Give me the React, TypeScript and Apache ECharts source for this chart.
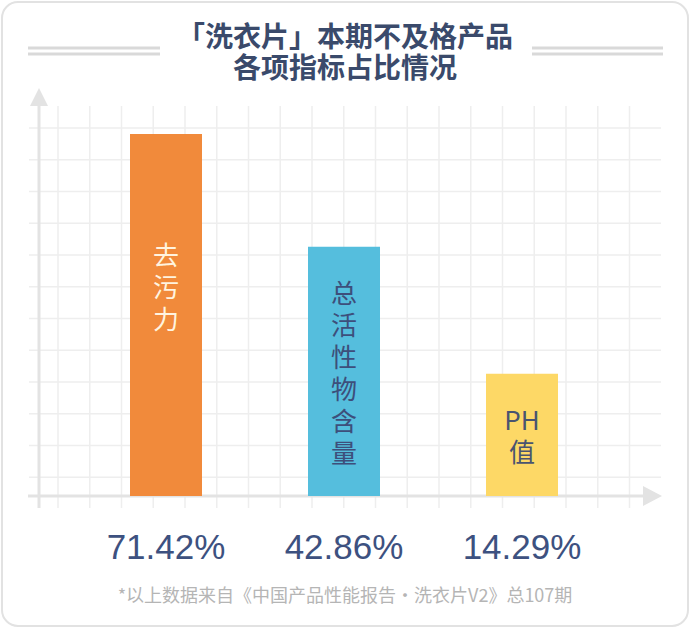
import { useEffect, useRef } from "react";
import * as echarts from "echarts";

const categories = ["去污力", "总活性物含量", "PH值"];
// bar heights as drawn, in background grid cells
const barValues = [11.4, 7.85, 3.85];
const shareLabels = ["71.42%", "42.86%", "14.29%"];
const barColors = ["#f18a3b", "#55bedd", "#fdd866"];
const barTextColors = ["#fff3df", "#3d4f7b", "#4a5470"];
const barTextOffsets = [[0, -30], [0, 0], [0, 0]];

const titleLines = ["「洗衣片」本期不及格产品", "各项指标占比情况"];
const noteText = "*以上数据来自《中国产品性能报告·洗衣片V2》总107期";

const CELL = 31.75;

function backdrop() {
  const els: any[] = [];
  els.push({
    type: "rect",
    z: -10,
    shape: { x: 2, y: 2, width: 686, height: 624, r: 16 },
    style: { fill: "#fff", stroke: "#e2e2e2", lineWidth: 2 }
  });
  // background grid
  for (let k = 0; k < 12; k++) {
    const y = 128 + k * CELL;
    els.push({
      type: "line",
      z: -5,
      shape: { x1: 29, y1: y, x2: 661, y2: y },
      style: { stroke: "#eeeeee", lineWidth: 1.5 }
    });
  }
  for (let k = 0; k < 19; k++) {
    const x = 58 + k * CELL;
    els.push({
      type: "line",
      z: -5,
      shape: { x1: x, y1: 106, x2: x, y2: 508 },
      style: { stroke: "#eeeeee", lineWidth: 1.5 }
    });
  }
  // axes with arrows
  els.push(
    { type: "line", z: -4, shape: { x1: 39, y1: 508, x2: 39, y2: 104 }, style: { stroke: "#e3e3e3", lineWidth: 3 } },
    { type: "polygon", z: -4, shape: { points: [[30, 106], [48, 106], [39, 88]] }, style: { fill: "#e3e3e3" } },
    { type: "line", z: -4, shape: { x1: 28, y1: 496, x2: 645, y2: 496 }, style: { stroke: "#e3e3e3", lineWidth: 3 } },
    { type: "polygon", z: -4, shape: { points: [[643, 486], [643, 506], [662, 496]] }, style: { fill: "#e3e3e3" } }
  );
  // title rules
  for (const [x1, x2] of [[28, 160], [532, 663]]) {
    for (const y of [48, 54]) {
      els.push({ type: "line", shape: { x1, y1: y, x2, y2: y }, style: { stroke: "#d9d9d9", lineWidth: 3 } });
    }
  }
  titleLines.forEach((t, i) => {
    els.push({
      type: "text",
      x: 345,
      y: 35 + i * 31,
      style: {
        text: t,
        align: "center",
        verticalAlign: "middle",
        fontSize: 28,
        fontWeight: "bold",
        fill: "#3a4a6b",
        fontFamily: "'Noto Sans CJK SC', sans-serif"
      }
    });
  });
  els.push({
    type: "text",
    x: 345,
    y: 594,
    style: {
      text: noteText,
      align: "center",
      verticalAlign: "middle",
      fontSize: 18,
      fill: "#b5b5b5",
      fontFamily: "'Noto Sans CJK SC', sans-serif"
    }
  });
  return els;
}

export default function App() {
  const ref = useRef<HTMLDivElement | null>(null);

  useEffect(() => {
    document.body.style.margin = "0";
    if (!ref.current) return;
    const chart = echarts.init(ref.current, null, { renderer: "svg" });

    const option: echarts.EChartsOption = {
      animation: false,
      backgroundColor: "#fff",
      grid: { left: 77, right: 79, top: 496 - 12 * CELL, bottom: 132 },
      xAxis: {
        type: "category",
        data: categories,
        axisLine: { show: false },
        axisTick: { show: false },
        axisLabel: {
          interval: 0,
          hideOverlap: false,
          margin: 33,
          fontSize: 35,
          color: "#3d5180",
          fontFamily: "'Liberation Sans', sans-serif",
          formatter: (_v: string, i: number) => shareLabels[i]
        }
      },
      yAxis: {
        type: "value",
        min: 0,
        max: 12,
        show: false,
        splitLine: { show: false }
      },
      graphic: backdrop(),
      series: [
        {
          type: "bar",
          barWidth: 72,
          data: barValues.map((v, i) => ({
            value: v,
            itemStyle: { color: barColors[i] },
            label: {
              show: true,
              position: "inside",
              offset: barTextOffsets[i],
              color: barTextColors[i],
              fontSize: 26,
              lineHeight: 32,
              fontFamily: "'Noto Sans CJK SC', sans-serif",
              formatter: (p: any) => (p.name.match(/[A-Za-z]+|./g) || []).join("\n")
            }
          }))
        }
      ]
    };

    chart.setOption(option);
    return () => chart.dispose();
  }, []);

  return <div ref={ref} style={{ width: 690, height: 628 }} />;
}
